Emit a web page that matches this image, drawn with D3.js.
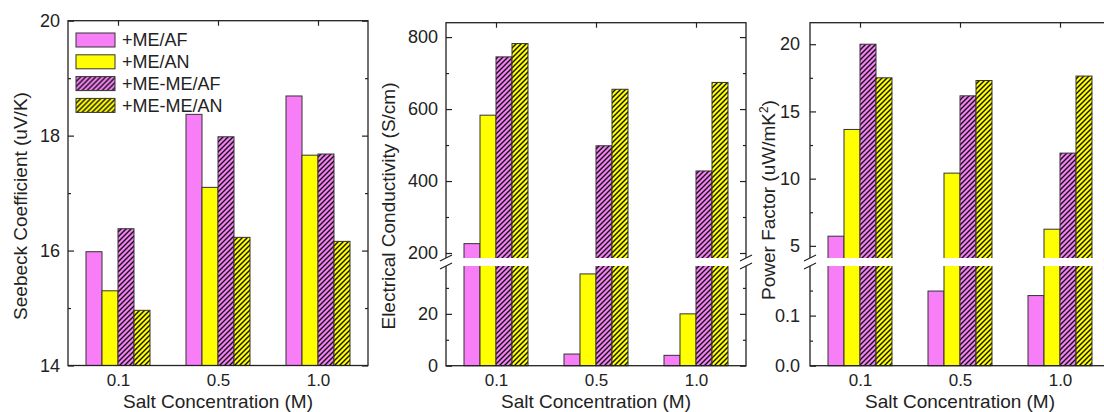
<!DOCTYPE html>
<html>
<head>
<meta charset="utf-8">
<script src="https://cdn.jsdelivr.net/npm/d3@7"></script>
<style>
  body { margin: 0; background: #fff; }
  svg { font-family: Arial, "Liberation Sans", sans-serif; }
  .tick text { fill: #222; font-size: 18px; }
  .xaxis .tick text { font-size: 17px; }
  .tick line { stroke: #222; stroke-width: 1.2; }
  .title { fill: #222; font-size: 19px; }
</style>
</head>
<body>
<script>
// categories / series
const categories = ['0.1', '0.5', '1.0'];
const series = ['+ME/AF', '+ME/AN', '+ME-ME/AF', '+ME-ME/AN'];

// values, one array per series (0.1, 0.5, 1.0 M)
const seebeckValues = [
  [15.98, 18.37, 18.69],
  [15.30, 17.10, 17.66],
  [16.38, 17.98, 17.68],
  [14.96, 16.23, 16.16]
];
const conductivityValues = [
  [226, 4.5, 4.0],
  [583, 35.4, 20.0],
  [745, 498, 428],
  [782, 655, 674]
];
const powerFactorValues = [
  [5.72, 0.149, 0.14],
  [13.66, 10.41, 6.24],
  [20.0, 16.16, 11.9],
  [17.5, 17.3, 17.63]
];

// tick labels
const seebeckTicks = [14, 16, 18, 20];
const seebeckMinor = [15, 17, 19];
const condUpperTicks = [200, 400, 600, 800];
const condUpperMinor = [300, 500, 700];
const condLowerTicks = [0, 20];
const condLowerMinor = [10, 30];
const pfUpperTicks = [5, 10, 15, 20];
const pfUpperMinor = [7.5, 12.5, 17.5];
const pfLowerTicks = [0, 0.1];
const pfLowerMinor = [0.05, 0.15];

const pink = '#f77ef7';
const yellow = '#ffff00';

const svg = d3.select('body')
  .append('svg')
  .attr('width', 1104)
  .attr('height', 412);

// hatch patterns
const defs = svg.append('defs');
[['hatchPink', pink], ['hatchYellow', yellow]].forEach(function (p) {
  let pat = defs.append('pattern')
    .attr('id', p[0])
    .attr('patternUnits', 'userSpaceOnUse')
    .attr('width', 5)
    .attr('height', 5);
  pat.append('rect').attr('width', 5).attr('height', 5).attr('fill', p[1]);
  pat.append('path')
    .attr('d', 'M0,5 L5,0 M-1,1 L1,-1 M4,6 L6,4')
    .attr('stroke', '#111')
    .attr('stroke-width', 1.4);
});

const fills = [pink, yellow, 'url(#hatchPink)', 'url(#hatchYellow)'];

const panels = [
  {
    left: 68, top: 20.7, bottom: 365.5,
    values: seebeckValues,
    label: 'Seebeck Coefficient (uV/K)', labelX: 20, labelY: 206,
    upper: d3.scaleLinear().domain([14, 20]).range([365.5, 20.7]),
    upperTicks: seebeckTicks, upperMinor: seebeckMinor,
    fmt: d3.format('d'), padding: 8
  },
  {
    left: 446, top: 22.7, bottom: 365.7,
    values: conductivityValues,
    label: 'Electrical Conductivity (S/cm)', labelX: 388, labelY: 206,
    brk: 262,
    upper: d3.scaleLinear().domain([175, 840]).range([262, 22.7]),
    lower: d3.scaleLinear().domain([0, 40]).range([365.7, 262]),
    upperTicks: condUpperTicks, upperMinor: condUpperMinor,
    lowerTicks: condLowerTicks, lowerMinor: condLowerMinor,
    fmt: d3.format('d'), lowerFmt: d3.format('d'), padding: 8
  },
  {
    left: 810, top: 22.7, bottom: 365.7,
    values: powerFactorValues,
    label: 'Power Factor (uW/mK', labelX: 768, labelY: 200,
    sup: '2',
    brk: 262,
    upper: d3.scaleLinear().domain([3.8, 21.6]).range([262, 22.7]),
    lower: d3.scaleLinear().domain([0, 0.207]).range([365.7, 262]),
    upperTicks: pfUpperTicks, upperMinor: pfUpperMinor,
    lowerTicks: pfLowerTicks, lowerMinor: pfLowerMinor,
    fmt: d3.format('d'), lowerFmt: d3.format('.1f'), padding: 10
  }
];

const plotWidth = 300;

panels.forEach(function (p) {
  let g = svg.append('g');
  let right = p.left + plotWidth;

  let x = d3.scaleBand()
    .domain(categories)
    .range([p.left, right])
    .paddingInner(0.36)
    .paddingOuter(0.18);
  let xs = d3.scaleBand()
    .domain(series)
    .range([0, x.bandwidth()]);

  function y(v) {
    if (p.lower && v < p.lower.domain()[1]) {
      return p.lower(v);
    }
    return p.upper(v);
  }

  // bars
  series.forEach(function (s, si) {
    g.selectAll('.bar' + si)
      .data(p.values[si])
      .enter()
      .append('rect')
      .attr('x', function (d, i) { return x(categories[i]) + xs(s); })
      .attr('y', function (d) { return y(d); })
      .attr('width', xs.bandwidth())
      .attr('height', function (d) { return p.bottom - y(d); })
      .attr('fill', fills[si])
      .attr('stroke', '#333')
      .attr('stroke-width', 1);
  });

  // frame
  g.append('rect')
    .attr('x', p.left)
    .attr('y', p.top)
    .attr('width', plotWidth)
    .attr('height', p.bottom - p.top)
    .attr('fill', 'none')
    .attr('stroke', '#222')
    .attr('stroke-width', 1.3);

  // y axes (left with labels, right without)
  function addY(scale, ticks, minor, fmt) {
    g.append('g')
      .attr('transform', 'translate(' + p.left + ',0)')
      .call(d3.axisLeft(scale).tickValues(ticks).tickFormat(fmt)
        .tickSizeInner(-6).tickSizeOuter(0).tickPadding(p.padding))
      .call(function (a) { a.select('.domain').remove(); });
    g.append('g')
      .attr('transform', 'translate(' + p.left + ',0)')
      .call(d3.axisLeft(scale).tickValues(minor).tickFormat('')
        .tickSizeInner(-3).tickSizeOuter(0))
      .call(function (a) { a.select('.domain').remove(); });
    g.append('g')
      .attr('transform', 'translate(' + right + ',0)')
      .call(d3.axisRight(scale).tickValues(ticks).tickFormat('')
        .tickSizeInner(-6).tickSizeOuter(0))
      .call(function (a) { a.select('.domain').remove(); });
    g.append('g')
      .attr('transform', 'translate(' + right + ',0)')
      .call(d3.axisRight(scale).tickValues(minor).tickFormat('')
        .tickSizeInner(-3).tickSizeOuter(0))
      .call(function (a) { a.select('.domain').remove(); });
  }
  addY(p.upper, p.upperTicks, p.upperMinor, p.fmt);
  if (p.lower) {
    addY(p.lower, p.lowerTicks, p.lowerMinor, p.lowerFmt);
  }

  // x axes
  let xc = d3.scalePoint().domain(categories)
    .range([x(categories[0]) + x.bandwidth() / 2, x(categories[2]) + x.bandwidth() / 2]);
  g.append('g')
    .attr('class', 'xaxis')
    .attr('transform', 'translate(0,' + p.bottom + ')')
    .call(d3.axisBottom(xc).tickSizeInner(0).tickSizeOuter(0).tickPadding(8))
    .call(function (a) { a.select('.domain').remove(); });
  g.append('g')
    .attr('transform', 'translate(0,' + p.top + ')')
    .call(d3.axisTop(xc).tickFormat('').tickSizeInner(-5).tickSizeOuter(0))
    .call(function (a) { a.select('.domain').remove(); });

  // axis break
  if (p.brk) {
    g.append('rect')
      .attr('x', p.left - 3)
      .attr('y', p.brk - 4)
      .attr('width', plotWidth + 6)
      .attr('height', 8)
      .attr('fill', '#fff');
    [p.left, right].forEach(function (ax) {
      [-4, 4].forEach(function (off) {
        g.append('line')
          .attr('x1', ax - 6).attr('y1', p.brk + off + 3)
          .attr('x2', ax + 6).attr('y2', p.brk + off - 3)
          .attr('stroke', '#222')
          .attr('stroke-width', 1.2);
      });
    });
  }

  // titles
  let yl = g.append('text')
    .attr('class', 'title')
    .attr('transform', 'translate(' + p.labelX + ',' + p.labelY + ') rotate(-90)')
    .attr('text-anchor', 'middle')
    .attr('dy', '0.35em')
    .text(p.label);
  if (p.sup) {
    yl.append('tspan')
      .attr('baseline-shift', 'super')
      .style('font-size', '12px')
      .text(p.sup);
    yl.append('tspan').text(')');
  }

  g.append('text')
    .attr('class', 'title')
    .attr('x', p.left + plotWidth / 2)
    .attr('y', 408)
    .attr('text-anchor', 'middle')
    .text('Salt Concentration (M)');
});

// legend in the first panel
let legend = svg.append('g')
  .selectAll('g')
  .data(series)
  .enter()
  .append('g')
  .attr('transform', function (d, i) {
    return 'translate(76,' + (33 + i * 21.8) + ')';
  });

legend.append('rect')
  .attr('width', 39)
  .attr('height', 14)
  .attr('fill', function (d, i) { return fills[i]; })
  .attr('stroke', '#333')
  .attr('stroke-width', 1);

legend.append('text')
  .attr('x', 46)
  .attr('y', 7)
  .attr('dy', '0.35em')
  .style('font-size', '18px')
  .style('fill', '#222')
  .text(function (d) { return d; });
</script>
</body>
</html>
